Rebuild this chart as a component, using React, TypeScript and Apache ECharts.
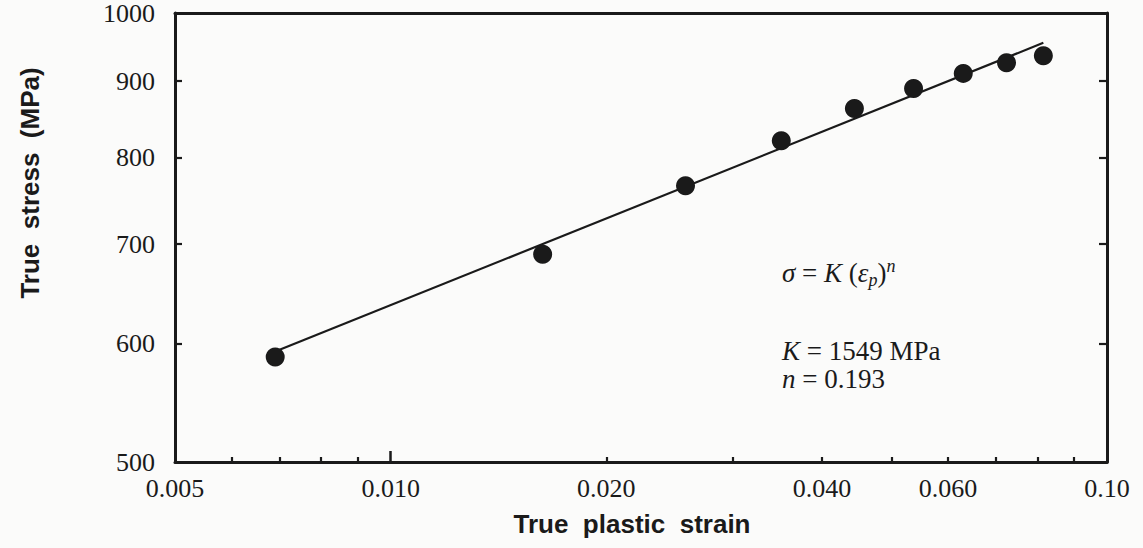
import React, { useEffect, useRef } from "react";
import * as echarts from "echarts";

// ---- data ----
const strainValues = [0.0069, 0.0163, 0.0258, 0.0351, 0.0444, 0.0537, 0.063, 0.0724, 0.0815];
const stressValues = [588, 689, 766, 821, 863, 890, 911, 926, 936];

// fitted power-law line (straight in log-log), end points
const fitStrain = [0.0069, 0.0815];
const fitStress = [593, 955];

// axis ticks / labels
const xLabelValues = [0.005, 0.01, 0.02, 0.04, 0.06, 0.1];
const xLabelTexts = ["0.005", "0.010", "0.020", "0.040", "0.060", "0.10"];
const xTickValues = [0.006, 0.007, 0.008, 0.009, 0.02, 0.03, 0.04, 0.05, 0.06, 0.07, 0.08, 0.09];
const xMajorTickValues = [0.01];
const yLabelValues = [500, 600, 700, 800, 900, 1000];
const yTickValues = [600, 700, 800, 900];

const INK = "#1a1a1a";
const SERIF = "'Liberation Serif', 'Times New Roman', serif";
const SANS = "'Liberation Sans', Arial, sans-serif";

export default function App() {
  const ref = useRef<HTMLDivElement>(null);

  useEffect(() => {
    if (!ref.current) return;
    const chart = echarts.init(ref.current, null, { renderer: "svg" });

    const baseX = { type: "log", logBase: 10, min: 0.005, max: 0.1, gridIndex: 0, splitLine: { show: false } };
    const baseY = { type: "log", logBase: 10, min: 500, max: 1000, gridIndex: 0, splitLine: { show: false } };

    const annFont = 27;
    const italic = { fontStyle: "italic", fontFamily: SERIF, fontSize: annFont, color: INK, lineHeight: 26 };

    const option: any = {
      animation: false,
      backgroundColor: "#fbfbfa",
      grid: { left: 175, right: 36, top: 12, bottom: 86, containLabel: false },
      xAxis: [
        {
          ...baseX,
          position: "bottom",
          axisLine: { show: true, lineStyle: { color: INK, width: 3 } },
          axisTick: { show: true, inside: true, length: 5, lineStyle: { color: INK, width: 2.2 }, customValues: xTickValues },
          axisLabel: {
            show: true,
            margin: 13,
            color: INK,
            fontFamily: SERIF,
            fontSize: 26,
            customValues: xLabelValues,
            formatter: (v: number) => {
              let best = 0;
              xLabelValues.forEach((x, i) => {
                if (Math.abs(Math.log10(x) - Math.log10(v)) < Math.abs(Math.log10(xLabelValues[best]) - Math.log10(v))) best = i;
              });
              return xLabelTexts[best];
            },
          },
        },
        {
          ...baseX,
          position: "bottom",
          axisLine: { show: false },
          axisTick: { show: true, inside: true, length: 11, lineStyle: { color: INK, width: 2.5 }, customValues: xMajorTickValues },
          axisLabel: { show: false },
        },
        {
          ...baseX,
          position: "top",
          axisLine: { show: true, lineStyle: { color: INK, width: 3 } },
          axisTick: { show: false },
          axisLabel: { show: false },
        },
      ],
      yAxis: [
        {
          ...baseY,
          position: "left",
          axisLine: { show: true, lineStyle: { color: INK, width: 3 } },
          axisTick: { show: true, inside: true, length: 7, lineStyle: { color: INK, width: 2.2 }, customValues: yTickValues },
          axisLabel: {
            show: true,
            margin: 20,
            color: INK,
            fontFamily: SERIF,
            fontSize: 26,
            customValues: yLabelValues,
            formatter: (v: number) => String(Math.round(v)),
          },
        },
        {
          ...baseY,
          position: "right",
          axisLine: { show: true, lineStyle: { color: INK, width: 3 } },
          axisTick: { show: true, inside: true, length: 8, lineStyle: { color: INK, width: 2.2 }, customValues: yTickValues },
          axisLabel: { show: false },
        },
      ],
      series: [
        {
          type: "line",
          xAxisIndex: 0,
          yAxisIndex: 0,
          data: fitStrain.map((s, i) => [s, fitStress[i]]),
          showSymbol: false,
          symbol: "none",
          lineStyle: { color: INK, width: 2.2, opacity: 1 },
          z: 2,
        },
        {
          type: "scatter",
          xAxisIndex: 0,
          yAxisIndex: 0,
          data: strainValues.map((s, i) => [s, stressValues[i]]),
          symbol: "circle",
          symbolSize: 19,
          itemStyle: { color: "#1a1a1a", opacity: 1 },
          z: 3,
        },
      ],
      graphic: [
        {
          type: "text",
          x: 30,
          y: 183,
          rotation: Math.PI / 2,
          style: {
            text: "True  stress  (MPa)",
            font: `bold 26px ${SANS}`,
            fill: INK,
            align: "center",
            verticalAlign: "middle",
          },
        },
        {
          type: "text",
          x: 632,
          y: 524,
          style: {
            text: "True  plastic  strain",
            font: `bold 26px ${SANS}`,
            fill: INK,
            align: "center",
            verticalAlign: "middle",
          },
        },
        {
          type: "text",
          x: 782,
          y: 273,
          style: {
            text: "{i|σ}{r| = }{i|K}{r| (}{i|ε}{sub|p}{r|)}{sup|n}",
            font: `${annFont}px ${SERIF}`,
            fill: INK,
            align: "left",
            verticalAlign: "middle",
            rich: {
              i: { ...italic, lineHeight: 32 },
              r: { fontFamily: SERIF, fontSize: annFont, color: INK, lineHeight: 32 },
              sub: { fontStyle: "italic", fontFamily: SERIF, fontSize: 18, color: INK, verticalAlign: "bottom", lineHeight: 18 },
              sup: { fontStyle: "italic", fontFamily: SERIF, fontSize: 18, color: INK, verticalAlign: "top", lineHeight: 18 },
            },
          },
        },
        {
          type: "text",
          x: 782,
          y: 351,
          style: {
            text: "{i|K}{r| = 1549 MPa}",
            font: `${annFont}px ${SERIF}`,
            fill: INK,
            align: "left",
            verticalAlign: "middle",
            rich: {
              i: italic,
              r: { fontFamily: SERIF, fontSize: annFont, color: INK, lineHeight: 26 },
            },
          },
        },
        {
          type: "text",
          x: 782,
          y: 379,
          style: {
            text: "{i|n}{r| = 0.193}",
            font: `${annFont}px ${SERIF}`,
            fill: INK,
            align: "left",
            verticalAlign: "middle",
            rich: {
              i: italic,
              r: { fontFamily: SERIF, fontSize: annFont, color: INK, lineHeight: 26 },
            },
          },
        },
      ],
    };

    chart.setOption(option);
    return () => chart.dispose();
  }, []);

  return (
    <div
      ref={ref}
      style={{ position: "fixed", left: 0, top: 0, width: 1143, height: 548 }}
    />
  );
}
